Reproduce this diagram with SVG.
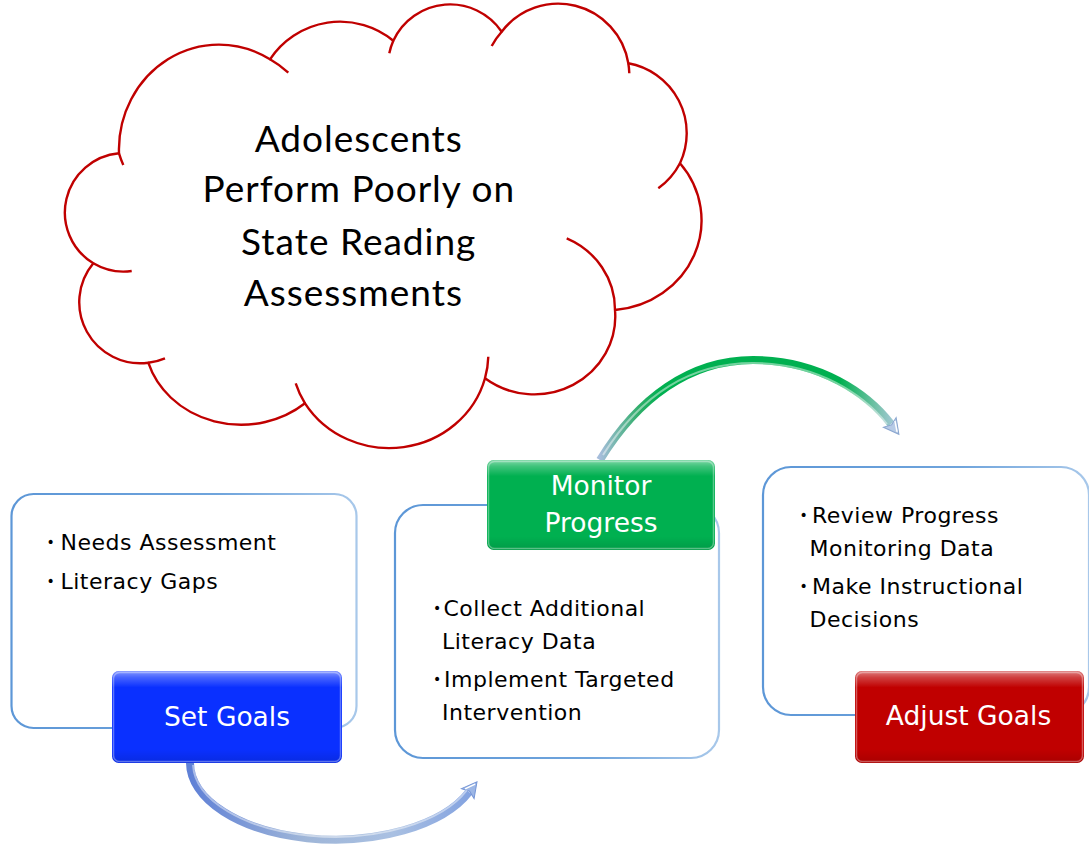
<svg xmlns="http://www.w3.org/2000/svg" width="1089" height="848" viewBox="0 0 1089 848">
<defs>
<style>
.cloud{fill:#fff;stroke:#c00000;stroke-width:2.4;stroke-linejoin:round}
.hook{fill:none;stroke:#c00000;stroke-width:2.4}
.ctext{font-family:Lato,"Liberation Sans",sans-serif;font-size:37px;fill:#000;text-anchor:middle;letter-spacing:1px}
.panel{fill:#fff;stroke:url(#panelStroke);stroke-width:2.2}
.btext{font-family:"DejaVu Sans","Liberation Sans",sans-serif;font-size:22px;fill:#000;letter-spacing:0.5px}
.bul{font-size:14px}
.ltext{font-family:"DejaVu Sans","Liberation Sans",sans-serif;font-size:26.5px;fill:#fff;text-anchor:middle}
.gloss{fill:url(#gloss)}
.rim{fill:none;stroke:#fff;stroke-opacity:0.35;stroke-width:1.5}
.tube{fill:none;stroke-width:8;stroke-linecap:butt}
.shine{fill:none;stroke:#fff;stroke-opacity:0.45;stroke-width:2}
</style>
<linearGradient id="panelStroke" x1="0" y1="0" x2="1" y2="0">
<stop offset="0" stop-color="#5d97d7"/>
<stop offset="0.6" stop-color="#6fa4dc"/>
<stop offset="1" stop-color="#a8c8ea"/>
</linearGradient>
<linearGradient id="gloss" x1="0" y1="0" x2="0" y2="1">
<stop offset="0" stop-color="#fff" stop-opacity="0.5"/>
<stop offset="0.07" stop-color="#fff" stop-opacity="0.25"/>
<stop offset="0.18" stop-color="#fff" stop-opacity="0"/>
<stop offset="0.85" stop-color="#000" stop-opacity="0"/>
<stop offset="1" stop-color="#000" stop-opacity="0.12"/>
</linearGradient>
<linearGradient id="greenArc" gradientUnits="userSpaceOnUse" x1="600" y1="0" x2="900" y2="0">
<stop offset="0" stop-color="#a6bddb"/>
<stop offset="0.13" stop-color="#2fae6a"/>
<stop offset="0.2" stop-color="#00b050"/>
<stop offset="0.8" stop-color="#00b050"/>
<stop offset="0.93" stop-color="#7cc3b0"/>
<stop offset="1" stop-color="#b4cbe6"/>
</linearGradient>
<linearGradient id="blueArc" gradientUnits="userSpaceOnUse" x1="190" y1="0" x2="480" y2="0">
<stop offset="0" stop-color="#5f80d6"/>
<stop offset="0.4" stop-color="#9fb6d8"/>
<stop offset="0.7" stop-color="#a9c0e2"/>
<stop offset="1" stop-color="#7f9fe0"/>
</linearGradient>
<marker id="headG" markerUnits="userSpaceOnUse" markerWidth="24" markerHeight="24" refX="2" refY="0" viewBox="-2 -12 24 24" orient="auto" overflow="visible">
<path d="M0,-8 L15,0 L0,8 L3,0 Z" fill="#b7cbe6" stroke="#8aa6cf" stroke-width="1"/>
<path d="M2,-5 L12,0" stroke="#fff" stroke-width="1.5"/>
</marker>
<marker id="headB" markerUnits="userSpaceOnUse" markerWidth="24" markerHeight="24" refX="2" refY="0" viewBox="-2 -12 24 24" orient="auto" overflow="visible">
<path d="M0,-8 L15,0 L0,8 L3,0 Z" fill="#9db7e6" stroke="#7595d6" stroke-width="1"/>
<path d="M2,-5 L12,0" stroke="#fff" stroke-width="1.5"/>
</marker>
</defs>
<rect width="1089" height="848" fill="#fff"/>

<g id="cloud">
<path class="cloud" d="M119,153.3 A100,105 0 0 1 270,59.3 A84,84 0 0 1 393.3,40.7 A62.5,62.5 0 0 1 501.7,31.7 A71,71 0 0 1 628.3,63.3 A71,71 0 0 1 680,163.3 A95,90 0 0 1 615,310 A81,78 0 0 1 485,378.3 A99,94 0 0 1 305,403.3 A97,87 0 0 1 148.3,362.7 A61,61 0 0 1 93.3,263.3 A59.5,59.5 0 0 1 119,153.3 Z"/>
<path class="hook" d="M123.3,165 A100,105 0 0 1 119,153.3 M270,59.3 A100,105 0 0 1 288.3,72.7 M389.3,53.3 A62.5,62.5 0 0 1 393.3,40.7 M491.7,46 A71,71 0 0 1 501.7,31.7 M628.3,63.3 A71,71 0 0 1 629.3,73.3 M680,163.3 A71,71 0 0 1 658.3,188.3 M566.7,238.3 A81,78 0 0 1 615,310 M488.3,356.7 A99,94 0 0 1 485,378.3 M305,403.3 A99,94 0 0 1 295.7,383.3 M165,358.3 A61,61 0 0 1 148.3,362.7 M131.7,271 A59.5,59.5 0 0 1 93.3,263.3"/>
<text class="ctext" x="358.8" y="151.7">Adolescents</text>
<text class="ctext" x="358.8" y="201.7">Perform Poorly on</text>
<text class="ctext" x="358.7" y="255">State Reading</text>
<text class="ctext" x="353.3" y="306">Assessments</text>
</g>

<g id="connectors">
<path class="tube" stroke="url(#greenArc)" d="M600,460 C638,398 690,360 753,360 C820,360 868,394 891,424" marker-end="url(#headG)"/>
<path class="shine" d="M603,455 C640,396 690,363 753,363 C818,363 864,395 887,424"/>
<path class="tube" stroke="url(#blueArc)" d="M190,763 A145,77 0 0 0 469,792" marker-end="url(#headB)"/>
<path class="shine" d="M193,765 A142,74 0 0 0 467,790"/>
</g>

<g id="set-goals">
<rect class="panel" x="11.5" y="494" width="345" height="234" rx="22"/>
<text class="btext"><tspan class="bul" x="46.5" y="547">•</tspan><tspan x="60.5" y="550">Needs Assessment</tspan></text>
<text class="btext"><tspan class="bul" x="46.5" y="586">•</tspan><tspan x="60.5" y="589.3">Literacy Gaps</tspan></text>
<rect x="112" y="671" width="230" height="92" rx="7" fill="#0a30ff"/>
<rect class="gloss" x="112" y="671" width="230" height="92" rx="7"/>
<rect class="rim" x="113.5" y="672.5" width="227" height="89" rx="6"/>
<text class="ltext" x="227" y="725.7">Set Goals</text>
</g>

<g id="monitor-progress">
<rect class="panel" x="395" y="505" width="324" height="253" rx="28"/>
<text class="btext"><tspan class="bul" x="433" y="612.5">•</tspan><tspan x="443.5" y="615.7">Collect Additional</tspan></text>
<text class="btext" x="442" y="648.5">Literacy Data</text>
<text class="btext"><tspan class="bul" x="433" y="684">•</tspan><tspan x="444" y="687.3">Implement Targeted</tspan></text>
<text class="btext" x="442" y="720">Intervention</text>
<rect x="487" y="460" width="228" height="90" rx="7" fill="#00b050"/>
<rect class="gloss" x="487" y="460" width="228" height="90" rx="7"/>
<rect class="rim" x="488.5" y="461.5" width="225" height="87" rx="6"/>
<text class="ltext" x="601" y="495">Monitor</text>
<text class="ltext" x="601" y="531.7">Progress</text>
</g>

<g id="adjust-goals">
<rect class="panel" x="763" y="467" width="326" height="248" rx="28"/>
<text class="btext"><tspan class="bul" x="799.5" y="519.5">•</tspan><tspan x="812" y="522.7">Review Progress</tspan></text>
<text class="btext" x="809.5" y="556">Monitoring Data</text>
<text class="btext"><tspan class="bul" x="799.5" y="590.8">•</tspan><tspan x="812" y="594">Make Instructional</tspan></text>
<text class="btext" x="809.5" y="627">Decisions</text>
<rect x="855" y="671" width="229" height="92" rx="7" fill="#c00000"/>
<rect class="gloss" x="855" y="671" width="229" height="92" rx="7"/>
<rect class="rim" x="856.5" y="672.5" width="226" height="89" rx="6"/>
<text class="ltext" x="968.5" y="725">Adjust Goals</text>
</g>
</svg>
